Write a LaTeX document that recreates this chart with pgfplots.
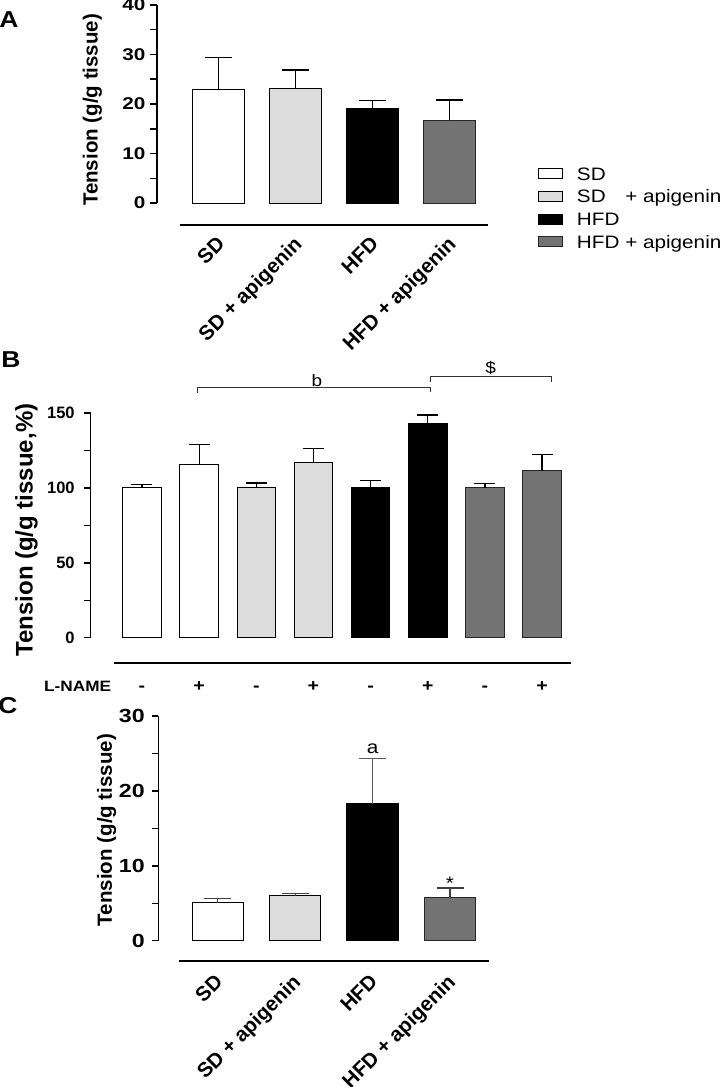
\documentclass[border=0pt]{standalone}
\usepackage{fontspec}
\setmainfont{Liberation Sans}
\newfontfamily\hfont{Liberation Sans}[FakeStretch=1.15]
\newfontfamily\wfont{Liberation Sans}[FakeStretch=1.22]
\usepackage{pgfplots}
\pgfplotsset{compat=1.18}
\definecolor{lgray}{RGB}{220,220,220}
\definecolor{dgray}{RGB}{115,115,115}
\pgfplotsset{
  panel/.style={
    scale only axis, clip=false,
    axis line style={draw=none},
    tick align=outside, ytick pos=left,
    xtick style={draw=none},
    ytick style={line width=1.5pt, black},
    major tick length=7pt, minor tick length=7pt,
    /pgf/number format/assume math mode=true,
    yticklabel style={font=\wfont\bfseries\fontsize{17}{20}\selectfont, xshift=-1pt},
    ylabel style={font=\bfseries\fontsize{20.5}{24}\selectfont, anchor=center},
  },
  mybar/.style={ybar, bar shift=0pt, line width=1pt,
    legend image code/.code={\draw[##1, line width=0.8pt] (0pt,-5pt) rectangle (24.6pt,5pt);}},
  myerr/.style={error bars/.cd, y dir=plus, y explicit,
    error bar style={line width=1.2pt, #1},
    error mark options={rotate=90, line width=1.2pt, #1, mark size=13.5pt}},
  myerrB/.style={error bars/.cd, y dir=plus, y explicit,
    error bar style={line width=1.2pt, black},
    error mark options={rotate=90, line width=1.2pt, black, mark size=10.5pt}},
}
\begin{document}
\begin{tikzpicture}
\useasboundingbox (0,0) rectangle (726pt,1087pt);

% ---------------- Panel A ----------------
\begin{axis}[panel, at={(157pt,862pt)}, anchor=south west,
  width=331.1pt, height=220pt,
  xmin=-0.8, xmax=3.5, ymin=-4.44, ymax=40,
  ytick={0,10,20,30,40}, minor ytick={5,15,25,35},
  xtick={0,1,2,3}, xticklabels={SD, SD + apigenin, HFD, HFD + apigenin},
  xticklabel style={font=\bfseries\fontsize{20.5}{24}\selectfont, xshift=-3pt, yshift=-3pt, rotate=45, anchor=north east, inner sep=0pt},
  ylabel={Tension (g/g tissue)},
  ylabel style={at={(axis description cs:-0.195,0.523)}},
  legend style={at={(axis description cs:1.1498,0.2645)}, anchor=north west,
    draw=none, fill=none, inner sep=0pt, row sep=9.7pt, column sep=13.7pt,
    font=\hfont\fontsize{18}{21}\selectfont,
    nodes={inner sep=0pt, text height=13pt, text depth=0pt}},
  legend cell align=left,
]
\addplot[mybar, bar width=51.7pt, fill=white, draw=black, myerr=black] coordinates {(0,22.96) +- (0,6.47)};
\addplot[mybar, bar width=51.7pt, fill=lgray, draw=black, myerr=black] coordinates {(1,23.23) +- (0,3.64)};
\addplot[mybar, bar width=51.7pt, fill=black, draw=black, myerr=black] coordinates {(2,19.12) +- (0,1.55)};
\addplot[mybar, bar width=51.7pt, fill=dgray, draw=black!85, myerr=black] coordinates {(3,16.70) +- (0,4.11)};
\legend{SD, \rlap{SD}\phantom{HFD} + apigenin, HFD, HFD + apigenin}
\draw[line width=1.6pt] (axis cs:-0.8,0) -- (axis cs:-0.8,40);
\draw[line width=1.8pt] (axis cs:-0.5,-4.44) -- (axis cs:3.5,-4.44);
\end{axis}

% ---------------- Panel B ----------------
\begin{axis}[panel, at={(90.7pt,423.9pt)}, anchor=south west,
  width=480.2pt, height=249.95pt,
  xmin=-0.897, xmax=7.504, ymin=-16.97, ymax=150,
  ytick={0,50,100,150}, minor ytick={25,75,125},
  yticklabel style={font=\bfseries\fontsize{16.5}{20}\selectfont, xshift=-4.5pt},
  xtick={0,1,2,3,4,5,6,7}, xticklabels={-,+,-,+,-,+,-,+},
  xticklabel style={font=\hfont\bfseries\fontsize{17}{20}\selectfont, anchor=base, inner sep=0pt, yshift=-21pt},
  ylabel={Tension (g/g tissue,\%)},
  ylabel style={font=\bfseries\fontsize{24}{28}\selectfont, at={(axis description cs:-0.134,0.532)}},
]
\addplot[mybar, bar width=38.5pt, fill=white, draw=black, myerrB] coordinates {(0,100) +- (0,2.5) (1,115.6) +- (0,13.6)};
\addplot[mybar, bar width=38.5pt, fill=lgray, draw=black, myerrB] coordinates {(2,100) +- (0,3.3) (3,116.9) +- (0,9.3)};
\addplot[mybar, bar width=38.5pt, fill=black, draw=black, myerrB] coordinates {(4,100) +- (0,5.1) (5,142.9) +- (0,5.9)};
\addplot[mybar, bar width=38.5pt, fill=dgray, draw=black!85, myerrB] coordinates {(6,100) +- (0,3.0) (7,111.5) +- (0,11.1)};
\draw[line width=1.6pt] (axis cs:-0.897,0) -- (axis cs:-0.897,150);
\draw[line width=1.8pt] (axis cs:-0.489,-16.97) -- (axis cs:7.504,-16.97);
\draw[line width=1pt, black!80] (axis cs:0.97,163.7) -- (axis cs:0.97,167.3) -- (axis cs:5.05,167.3) -- (axis cs:5.05,163.9);
\draw[line width=1pt, black!80] (axis cs:5.05,171) -- (axis cs:5.05,174.4) -- (axis cs:7.17,174.4) -- (axis cs:7.17,171);
\node[anchor=base, inner sep=0pt, font=\hfont\fontsize{16.5}{20}\selectfont] at (axis cs:3.06,167.6) {b};
\node[anchor=base, inner sep=0pt, font=\hfont\fontsize{16.5}{20}\selectfont] at (axis cs:6.1,176.8) {\$};
\node[anchor=base east, inner sep=0pt, font=\hfont\bfseries\fontsize{15}{18}\selectfont, yshift=-28pt] at (axis cs:-0.536,-16.97) {L-NAME};
\end{axis}

% ---------------- Panel C ----------------
\begin{axis}[panel, at={(158.3pt,126.3pt)}, anchor=south west,
  width=330.8pt, height=244.7pt,
  xmin=-0.768, xmax=3.505, ymin=-2.67, ymax=30,
  ytick={0,10,20,30}, minor ytick={5,15,25},
  major tick length=6pt, minor tick length=6pt,
  yticklabel style={font=\wfont\bfseries\fontsize{19}{22}\selectfont, xshift=-3pt},
  xtick={0,1,2,3}, xticklabels={SD, SD + apigenin, HFD, HFD + apigenin},
  xticklabel style={font=\bfseries\fontsize{20.5}{24}\selectfont, xshift=-4pt, yshift=-6pt, rotate=45, anchor=north east, inner sep=0pt},
  ylabel={Tension (g/g tissue)},
  ylabel style={at={(axis description cs:-0.156,0.534)}},
]
\addplot[mybar, bar width=51.5pt, fill=white, draw=black, myerr=black!75] coordinates {(0,5.07) +- (0,0.59)};
\addplot[mybar, bar width=51.5pt, fill=lgray, draw=black, myerr=black!75] coordinates {(1,6.00) +- (0,0.33)};
\addplot[mybar, bar width=51.5pt, fill=black, draw=black, myerr=black!65] coordinates {(2,18.30) +- (0,6.05)};
\addplot[mybar, bar width=51.5pt, fill=dgray, draw=black!85, myerr=black!75] coordinates {(3,5.74) +- (0,1.30)};
\draw[line width=1.6pt] (axis cs:-0.768,0) -- (axis cs:-0.768,30);
\draw[line width=1.8pt] (axis cs:-0.497,-2.67) -- (axis cs:3.505,-2.67);
\node[anchor=base, inner sep=0pt, font=\hfont\fontsize{18}{21}\selectfont] at (axis cs:2,25.0) {a};
\node[anchor=base, inner sep=0pt, font=\hfont\fontsize{18}{21}\selectfont] at (axis cs:3,6.8) {*};
\end{axis}

% panel letters
\node[inner sep=0pt, font=\hfont\bfseries\fontsize{23}{26}\selectfont] at (9pt,1067pt) {A};
\node[inner sep=0pt, font=\hfont\bfseries\fontsize{23}{26}\selectfont] at (11pt,727pt) {B};
\node[inner sep=0pt, font=\hfont\bfseries\fontsize{23}{26}\selectfont] at (8pt,381pt) {C};
\end{tikzpicture}
\end{document}
